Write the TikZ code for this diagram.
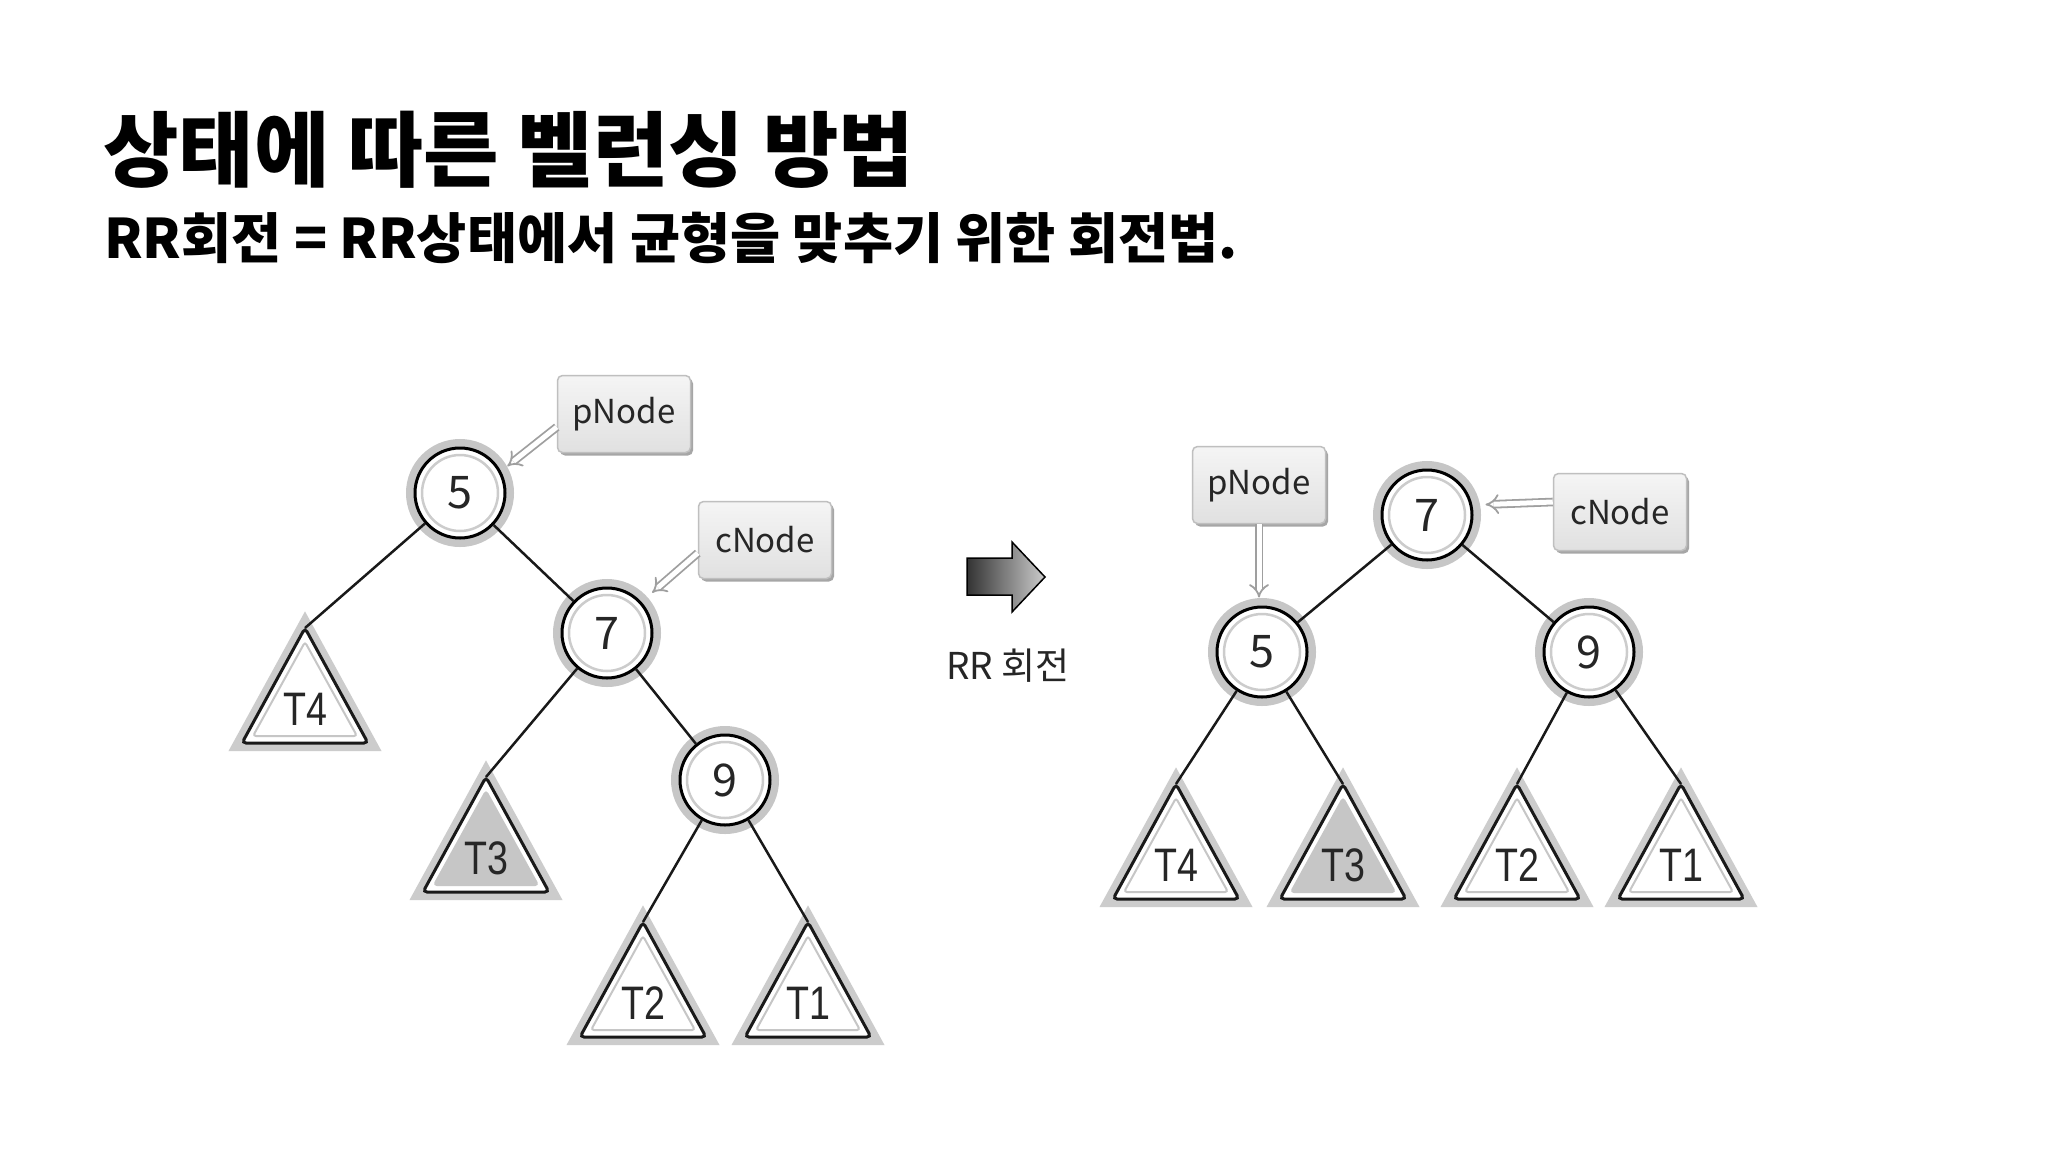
\documentclass[tikz,border=0pt]{standalone}
\usepackage{fontspec}
\setmainfont{Noto Sans CJK KR}
\newfontfamily\tfont[FakeStretch=0.8]{Liberation Sans}
\usetikzlibrary{arrows.meta,calc,shadows}

\tikzset{
  bnode/.style={circle, draw, line width=3pt, fill=white, minimum size=90pt, inner sep=0pt,
    text=black!85, font=\fontsize{45}{45}\selectfont,
    preaction={draw=gray!45, line width=18pt},
    path picture={\draw[gray!40, line width=2.5pt] (path picture bounding box.center) circle[radius=38pt];}},
  tagbox/.style={draw=gray!50, line width=1.5pt, rounded corners=5pt, top color=gray!8, bottom color=gray!24,
    minimum width=133pt, minimum height=77pt, text=black!85, font=\fontsize{33}{33}\selectfont,
    drop shadow={shadow xshift=2.5pt, shadow yshift=-3pt, fill=gray!70, opacity=1}},
  ptr/.style={draw=gray!75, line width=1.8pt, double=white, double distance=5pt, -{Implies}},
  treeline/.style={line width=2.5pt, black!90},
  trishade/.style={draw=gray!40, fill=gray!40, line width=16pt, line join=miter},
  tribody/.style={draw=black!90, fill=white, line width=3pt, rounded corners=4pt},
  triinner/.style={draw=gray!45, line width=2pt, rounded corners=3pt},
  tlabel/.style={text=black!85, inner sep=0pt, font=\tfont\fontsize{47}{47}\selectfont}
}

\begin{document}
\begin{tikzpicture}[x=1pt,y=-1pt]
\useasboundingbox (0,0) rectangle (2048,1152);
\fill[white] (0,0) rectangle (2048,1152);

% headings
\node[anchor=base west, inner sep=0pt, font=\bfseries\fontsize{82}{82}\selectfont] (title) at (103,180) {상태에 따른 벨런싱 방법};
\node[anchor=base west, inner sep=0pt, font=\bfseries\fontsize{54.5}{55}\selectfont] (subtitle) at (104,258) {RR회전 = RR상태에서 균형을 맞추기 위한 회전법.};

% subtrees
\foreach \n/\x/\y/\t/\f in {lt4/305/628/T4/white, lt3/486/777/T3/gray!45, lt2/643/922/T2/white, lt1/808/922/T1/white,
    rt4/1176/784/T4/white, rt3/1343/784/T3/gray!45, rt2/1517/784/T2/white, rt1/1681/784/T1/white}{
  \coordinate (\n) at (\x,\y);
  \draw[trishade] (\n) -- ++(-63,115) -- ++(126,0) -- cycle;
  \draw[tribody] (\n) -- ++(-63,115) -- ++(126,0) -- cycle;
  \draw[triinner, fill=\f] ($(\n)+(0,14)$) -- ++(-52,94) -- ++(104,0) -- cycle;
  \node[tlabel] (\n-t) at ($(\n)+(0,81)$) {\t};
}

% before rotation
\node[bnode] (l5) at (460,493) {5};
\node[bnode] (l7) at (607,633) {7};
\node[bnode] (l9) at (725,780) {9};
\node[tagbox] (lp) at (624,414) {pNode};
\node[tagbox] (lc) at (765,540) {cNode};

\draw[treeline] (l5) -- (lt4);
\draw[treeline] (l5) -- (l7);
\draw[treeline] (l7) -- (lt3);
\draw[treeline] (l7) -- (l9);
\draw[treeline] (l9) -- (lt2);
\draw[treeline] (l9) -- (lt1);

\draw[ptr, shorten >=8pt] (lp.191) -- (l5.28);
\draw[ptr, shorten >=14pt] (lc.191) -- (l7.42);

% rotation arrow
\shade[left color=black!80, right color=black!20, draw=black, line width=1.5pt, line join=miter]
  (967,558) -- (1012,558) -- (1012,542) -- (1045,577) -- (1012,612) -- (1012,595) -- (967,595) -- cycle;
\node[text=black!85, font=\fontsize{37}{37}\selectfont] (rr) at (1008,666) {RR 회전};

% after rotation
\node[bnode] (r7) at (1427,515) {7};
\node[bnode] (r5) at (1262,652) {5};
\node[bnode] (r9) at (1589,652) {9};
\node[tagbox] (rp) at (1259,485) {pNode};
\node[tagbox] (rc) at (1620,512) {cNode};

\draw[treeline] (r7) -- (r5);
\draw[treeline] (r7) -- (r9);
\draw[treeline] (r5) -- (rt4);
\draw[treeline] (r5) -- (rt3);
\draw[treeline] (r9) -- (rt2);
\draw[treeline] (r9) -- (rt1);

\draw[ptr, shorten >=8pt] (rp.south) -- (rp.south |- r5.north);
\draw[ptr, shorten >=12pt] ([yshift=10pt]rc.west) -- ([yshift=10pt]r7.east);
\end{tikzpicture}
\end{document}
